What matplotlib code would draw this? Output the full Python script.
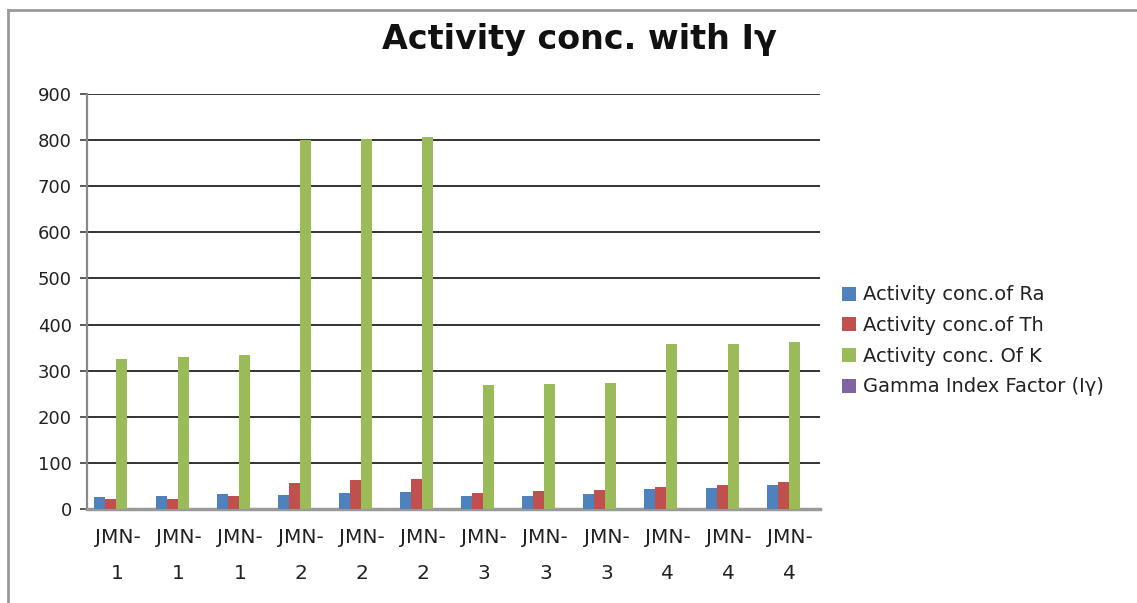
import numpy as np
import matplotlib.pyplot as plt
from matplotlib.lines import Line2D

# sample names and measured concentrations
samples = ["JMN-1", "JMN-1", "JMN-1", "JMN-2", "JMN-2", "JMN-2",
           "JMN-3", "JMN-3", "JMN-3", "JMN-4", "JMN-4", "JMN-4"]
ra = [26, 29, 33, 30, 35, 37, 28, 29, 33, 43, 45, 51]
th = [21, 22, 27, 57, 62, 65, 34, 39, 42, 48, 53, 58]
k = [325, 330, 333, 800, 803, 806, 268, 270, 273, 357, 358, 362]
gamma = [0.3, 0.3, 0.3, 0.6, 0.6, 0.6, 0.4, 0.4, 0.4, 0.5, 0.5, 0.5]

series = [
    ("Activity conc.of Ra", ra, "#4F81BD"),
    ("Activity conc.of Th", th, "#C0504D"),
    ("Activity conc. Of K", k, "#9BBB59"),
    ("Gamma Index Factor (I\u03b3)", gamma, "#8064A2"),
]

plt.rcParams["font.family"] = ["DejaVu Sans"]

fig = plt.figure(figsize=(11.37, 6.03), dpi=100)
ax = fig.add_axes([0.0765, 0.156, 0.645, 0.688])

x = np.arange(len(samples))
w = 0.18
for i, (name, vals, col) in enumerate(series):
    ax.bar(x + (i - 1.6) * w, vals, w, color=col, label=name, zorder=3)

ax.set_xlim(-0.5, len(samples) - 0.5)
ax.set_ylim(0, 900)
ax.set_yticks(range(0, 901, 100))
ax.tick_params(axis="y", labelsize=13, colors="#404040", length=5,
               width=1.2, pad=6, direction="out")
ax.tick_params(axis="y", labelcolor="#222222")
ax.set_xticks(x)
ax.set_xticklabels([s.replace("-", "-\n") for s in samples],
                   fontsize=14.5, linespacing=2.1, color="#222222")
ax.tick_params(axis="x", length=0, pad=14)

ax.grid(axis="y", color="#333333", linewidth=1.4, zorder=0)
for side in ("top", "right"):
    ax.spines[side].set_visible(False)
ax.spines["left"].set_color("#888888")
ax.spines["left"].set_linewidth(1.6)
ax.spines["bottom"].set_color("#999999")
ax.spines["bottom"].set_linewidth(2.5)

fig.text(0.51, 0.935, "Activity conc. with I\u03b3", ha="center", va="center",
         fontsize=24, fontweight="bold", color="#111111")

leg = ax.legend(loc="center left", bbox_to_anchor=(1.005, 0.405), frameon=False,
                fontsize=14, handlelength=0.75, handleheight=0.75,
                handletextpad=0.35, labelspacing=0.6, labelcolor="#222222")

# outer chart border on the top and left edges
fig.add_artist(Line2D([0.007, 0.007], [0.0, 0.984], transform=fig.transFigure,
                      color="#999999", linewidth=2))
fig.add_artist(Line2D([0.007, 1.0], [0.984, 0.984], transform=fig.transFigure,
                      color="#999999", linewidth=2))

fig.savefig("out.png", dpi=100)
